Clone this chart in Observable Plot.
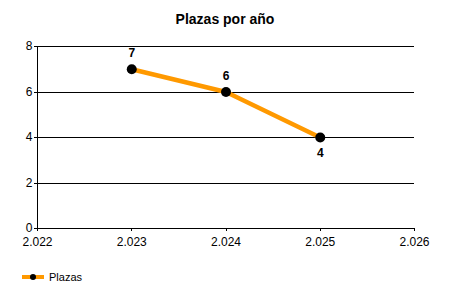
<!DOCTYPE html>
<html>
<head>
<meta charset="utf-8">
<script src="https://cdn.jsdelivr.net/npm/d3@7"></script>
<script src="https://cdn.jsdelivr.net/npm/@observablehq/plot@0.6"></script>
<style>
  html, body { margin: 0; padding: 0; background: #fff; }
  #wrap { position: relative; width: 450px; height: 300px; font-family: "Liberation Sans", Arial, sans-serif; }
  #title { position: absolute; left: 0; top: 10px; width: 450px; text-align: center; font-weight: bold; font-size: 14px; color: #000; line-height: 18px; }
  #chart { position: absolute; left: 0; top: 36px; }
  #legend { position: absolute; left: 22px; top: 269px; display: flex; align-items: center; font-size: 11px; color: #000; }
  #legend svg { margin-right: 5px; }
</style>
</head>
<body>
<div id="wrap">
  <div id="title">Plazas por año</div>
  <div id="chart"></div>
  <div id="legend"></div>
</div>
<script>
const years = [2023, 2024, 2025];
const plazas = [7, 6, 4];
const seriesName = "Plazas";
const xTicks = [2022, 2023, 2024, 2025, 2026];
const yTicks = [0, 2, 4, 6, 8];

const esFormat = d3.formatLocale({decimal: ",", thousands: ".", grouping: [3], currency: ["", " €"]}).format(",");
const data = years.map((y, i) => ({year: y, value: plazas[i], i}));
const orange = "#FF9900";

const plot = Plot.plot({
  width: 450,
  height: 220,
  marginLeft: 37,
  marginRight: 36,
  marginTop: 10,
  marginBottom: 28,
  style: {fontFamily: "'Liberation Sans', Arial, sans-serif", fontSize: "12px", color: "#000", background: "#fff"},
  x: {domain: [2022, 2026], ticks: xTicks, tickFormat: esFormat, label: null},
  y: {domain: [0, 8], ticks: yTicks, label: null},
  marks: [
    Plot.gridY(yTicks.filter(d => d > 0), {stroke: "#000", strokeOpacity: 1, strokeWidth: 1, shapeRendering: "crispEdges"}),
    Plot.ruleY([0], {stroke: "#000", shapeRendering: "crispEdges"}),
    Plot.ruleX([2022], {stroke: "#000", shapeRendering: "crispEdges"}),
    Plot.axisX({ticks: xTicks, tickFormat: esFormat, tickSize: 3, tickPadding: 6, fontSize: 12, stroke: "#000", fill: "#000", shapeRendering: "crispEdges"}),
    Plot.axisY({ticks: yTicks, tickSize: 3, tickPadding: 2, fontSize: 12, stroke: "#000", fill: "#000", shapeRendering: "crispEdges"}),
    Plot.line(data, {x: "year", y: "value", stroke: orange, strokeWidth: 4.5, strokeLinejoin: "round"}),
    Plot.dot(data, {x: "year", y: "value", r: 5, fill: "#000", stroke: "none"}),
    Plot.text(data.filter(d => d.i < data.length - 1), {x: "year", y: "value", text: d => String(d.value), dy: -16, fontWeight: "bold", fontSize: 12, fill: "#000"}),
    Plot.text(data.filter(d => d.i === data.length - 1), {x: "year", y: "value", text: d => String(d.value), dy: 16, fontWeight: "bold", fontSize: 12, fill: "#000"})
  ]
});
document.getElementById("chart").appendChild(plot);

// legend
const leg = document.getElementById("legend");
const ns = "http://www.w3.org/2000/svg";
const ls = document.createElementNS(ns, "svg");
ls.setAttribute("width", 22); ls.setAttribute("height", 16);
const ln = document.createElementNS(ns, "line");
ln.setAttribute("x1", 0); ln.setAttribute("x2", 22); ln.setAttribute("y1", 8); ln.setAttribute("y2", 8);
ln.setAttribute("stroke", orange); ln.setAttribute("stroke-width", 4);
const c = document.createElementNS(ns, "circle");
c.setAttribute("cx", 11); c.setAttribute("cy", 8); c.setAttribute("r", 3); c.setAttribute("fill", "#000");
ls.appendChild(ln); ls.appendChild(c);
leg.appendChild(ls);
const span = document.createElement("span");
span.textContent = seriesName;
leg.appendChild(span);
</script>
</body>
</html>
